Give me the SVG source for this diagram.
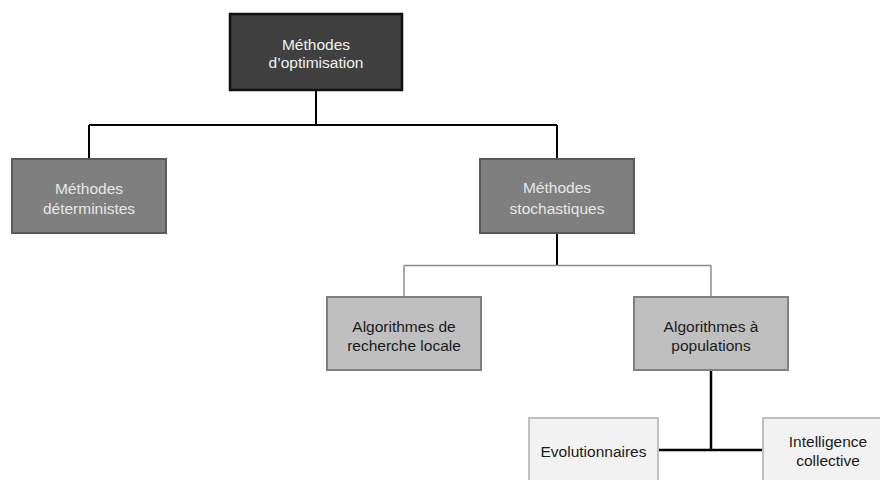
<svg xmlns="http://www.w3.org/2000/svg" width="880" height="480" viewBox="0 0 880 480">
<style>
text{font-family:"Liberation Sans",Arial,sans-serif;font-size:15.5px;text-anchor:middle}
.l1 rect{fill:#404040;stroke:#111;stroke-width:2.5}
.l1 text{fill:#f2f2f2}
.l2 rect{fill:#7f7f7f;stroke:#5a5a5a;stroke-width:2}
.l2 text{fill:#e6e6e6}
.l3 rect{fill:#bfbfbf;stroke:#808080;stroke-width:2}
.l3 text{fill:#1a1a1a}
.l4 rect{fill:#f2f2f2;stroke:#bfbfbf;stroke-width:2}
.l4 text{fill:#1a1a1a}
.c{fill:none;stroke:#000;stroke-width:2}
.c2{fill:none;stroke:#8c8c8c;stroke-width:1.5}
.c3{fill:none;stroke:#000;stroke-width:2.5}
</style>
<g id="connectors">
<path class="c" d="M316 90V125M89 125H557M89 125V159M557 125V159"/>
<path class="c" d="M557 233V265.5"/>
<path class="c2" d="M404 265.5H711M404 265.5V297M711 265.5V297"/>
<path class="c3" d="M711 370V450M658 450H763"/>
</g>
<g id="n-optim" class="l1">
<rect x="230" y="14" width="172" height="76"/>
<text x="316" y="50">Méthodes</text>
<text x="316" y="68">d’optimisation</text>
</g>
<g id="n-determ" class="l2">
<rect x="12" y="159" width="154" height="74"/>
<text x="89" y="194">Méthodes</text>
<text x="89" y="214">déterministes</text>
</g>
<g id="n-stoch" class="l2">
<rect x="480" y="159" width="154" height="74"/>
<text x="557" y="193">Méthodes</text>
<text x="557" y="214">stochastiques</text>
</g>
<g id="n-local" class="l3">
<rect x="327" y="297" width="154" height="73"/>
<text x="404" y="332">Algorithmes de</text>
<text x="404" y="351">recherche locale</text>
</g>
<g id="n-pop" class="l3">
<rect x="634" y="297" width="154" height="73"/>
<text x="711" y="332">Algorithmes à</text>
<text x="711" y="351">populations</text>
</g>
<g id="n-evo" class="l4">
<rect x="529" y="418" width="129" height="70"/>
<text x="593.5" y="457">Evolutionnaires</text>
</g>
<g id="n-intel" class="l4">
<rect x="763" y="418" width="130" height="70"/>
<text x="828" y="447">Intelligence</text>
<text x="828" y="466">collective</text>
</g>
</svg>
